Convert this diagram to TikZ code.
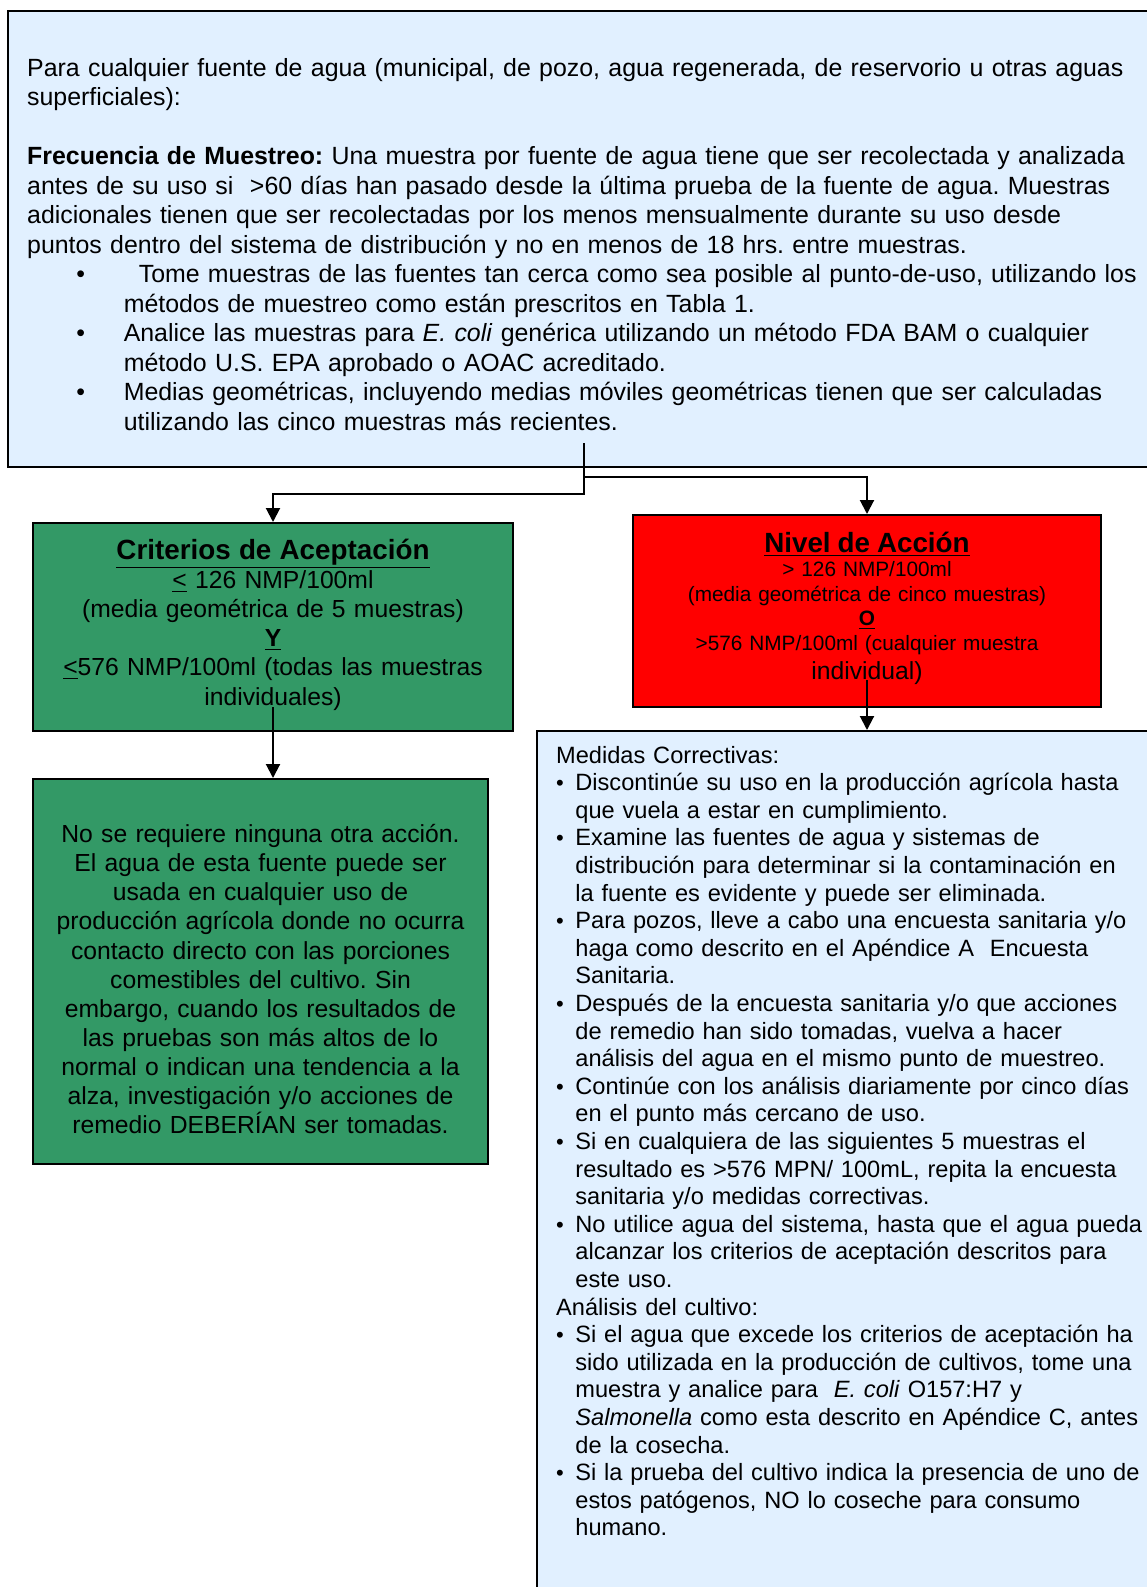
\documentclass[tikz,border=0pt]{standalone}
\usepackage{fontspec}
\setmainfont{Liberation Sans}
\usetikzlibrary{arrows.meta}
\usetikzlibrary{positioning}
\usepackage{xcolor}

\definecolor{paleblue}{HTML}{E1F0FF}
\definecolor{okgreen}{HTML}{339966}
\newcommand{\fixbul}{\makebox[9.6pt][l]{\fontsize{11}{11}\selectfont\textbullet}}
\newcommand{\fixind}{\hspace*{9.6pt}}
\frenchspacing

\begin{document}
\begin{tikzpicture}[x=0.5pt, y=-0.5pt,
	panel/.style={draw=black, line width=1pt, anchor=north west, inner ysep=0pt},
	link/.style={line width=1pt, -{Triangle[length=7pt,width=7pt]}}]

			\useasboundingbox (0,0) rectangle (1147,1587);
			\clip (0,0) rectangle (1147,1587);

			% fuente de agua
			\node[panel, fill=paleblue, inner xsep=9.6pt, text width=600pt, align=left,
				text height=32.5pt, text depth=195.5pt, font=\fontsize{12.45}{14.75}\selectfont] (src) at (7,10)
				{Para cualquier fuente de agua (municipal, de pozo, agua regenerada, de reservorio u otras aguas\\
				superficiales):\\[14.75pt]
				\textbf{Frecuencia de Muestreo:} Una muestra por fuente de agua tiene que ser recolectada y analizada\\
				antes de su uso si \ >60 días han pasado desde la última prueba de la fuente de agua. Muestras\\
				adicionales tienen que ser recolectadas por los menos mensualmente durante su uso desde\\
				puntos dentro del sistema de distribución y no en menos de 18 hrs. entre muestras.\\
				\hspace*{24.6pt}\makebox[23.7pt][l]{\textbullet}\hspace{7.5pt}Tome muestras de las fuentes tan cerca como sea posible al punto-de-uso, utilizando los\\
				\hspace*{48.3pt}métodos de muestreo como están prescritos en Tabla 1.\\
				\hspace*{24.6pt}\makebox[23.7pt][l]{\textbullet}Analice las muestras para \textit{E. coli} genérica utilizando un método FDA BAM o cualquier\\
				\hspace*{48.3pt}método U.S. EPA aprobado o AOAC acreditado.\\
				\hspace*{24.6pt}\makebox[23.7pt][l]{\textbullet}Medias geométricas, incluyendo medias móviles geométricas tienen que ser calculadas\\
				\hspace*{48.3pt}utilizando las cinco muestras más recientes.};

			% criterios
			\node[panel, fill=okgreen, inner xsep=4pt, text width=232pt, align=center,
				text height=18pt, text depth=86pt, font=\fontsize{12.35}{14.6}\selectfont] (crit) at (32,522)
				{{\fontsize{13.9}{14}\selectfont\bfseries\underline{Criterios de Aceptación}}\\
				\underline{<} 126 NMP/100ml\\
				(media geométrica de 5 muestras)\\
				\textbf{\underline{Y}}\\
				\underline{<}576 NMP/100ml (todas las muestras\\
				individuales)};

			\node[panel, fill=red, inner xsep=4pt, text width=226pt, align=center,
				text height=18.5pt, text depth=77.5pt, font=\fontsize{10.4}{12.3}\selectfont] (act) at (632,514)
				{{\fontsize{13.9}{14}\selectfont\bfseries\underline{Nivel de Acción}}\\
				> 126 NMP/100ml\\
				(media geométrica de cinco muestras)\\
				\textbf{\underline{O}}\\
				>576 NMP/100ml (cualquier muestra\\[2.3pt]
				{\fontsize{12.35}{14.6}\selectfont individual)}};

			\node[panel, fill=okgreen, inner xsep=4pt, text width=219.5pt, align=center,
				text height=31.8pt, text depth=160.7pt, font=\fontsize{12.35}{14.55}\selectfont] (noact) at (32,778)
				{No se requiere ninguna otra acción.\\
				El agua de esta fuente puede ser\\
				usada en cualquier uso de\\
				producción agrícola donde no ocurra\\
				contacto directo con las porciones\\
				comestibles del cultivo. Sin\\
				embargo, cuando los resultados de\\
				las pruebas son más altos de lo\\
				normal o indican una tendencia a la\\
				alza, investigación y/o acciones de\\
				remedio DEBERÍAN ser tomadas.};

			\node[panel, fill=paleblue, inner xsep=9.6pt, text width=400pt, align=left,
				text height=16pt, text depth=450pt, font=\fontsize{11.8}{13.8}\selectfont] (fix) at (536,730)
				{Medidas Correctivas:\\
				\fixbul Discontinúe su uso en la producción agrícola hasta\\
				\fixind que vuela a estar en cumplimiento.\\
				\fixbul Examine las fuentes de agua y sistemas de\\
				\fixind distribución para determinar si la contaminación en\\
				\fixind la fuente es evidente y puede ser eliminada.\\
				\fixbul Para pozos, lleve a cabo una encuesta sanitaria y/o\\
				\fixind haga como descrito en el Apéndice A \ Encuesta\\
				\fixind Sanitaria.\\
				\fixbul Después de la encuesta sanitaria y/o que acciones\\
				\fixind de remedio han sido tomadas, vuelva a hacer\\
				\fixind análisis del agua en el mismo punto de muestreo.\\
				\fixbul Continúe con los análisis diariamente por cinco días\\
				\fixind en el punto más cercano de uso.\\
				\fixbul Si en cualquiera de las siguientes 5 muestras el\\
				\fixind resultado es >576 MPN/ 100mL, repita la encuesta\\
				\fixind sanitaria y/o medidas correctivas.\\
				\fixbul No utilice agua del sistema, hasta que el agua pueda\\
				\fixind alcanzar los criterios de aceptación descritos para\\
				\fixind este uso.\\
				Análisis del cultivo:\\
				\fixbul Si el agua que excede los criterios de aceptación ha\\
				\fixind sido utilizada en la producción de cultivos, tome una\\
				\fixind muestra y analice para \ \textit{E. coli} O157:H7 y\\
				\fixind \textit{Salmonella} como esta descrito en Apéndice C, antes\\
				\fixind de la cosecha.\\
				\fixbul Si la prueba del cultivo indica la presencia de uno de\\
				\fixind estos patógenos, NO lo coseche para consumo\\
				\fixind humano.};

			% flechas
			\coordinate (trunk) at (584,443);
			\coordinate (forkL) at (584,494);
			\coordinate (forkR) at (584,477);
			\draw[link] (trunk) -- (forkL) -| (crit.north);
			\draw[link] (forkR) -| (act.north);
			\draw[link] ([yshift=12.5pt]crit.south) -- (crit.south |- noact.north);
			\draw[link] ([yshift=14pt]act.south) -- (act.south |- fix.north);
		\end{tikzpicture}
\end{document}
